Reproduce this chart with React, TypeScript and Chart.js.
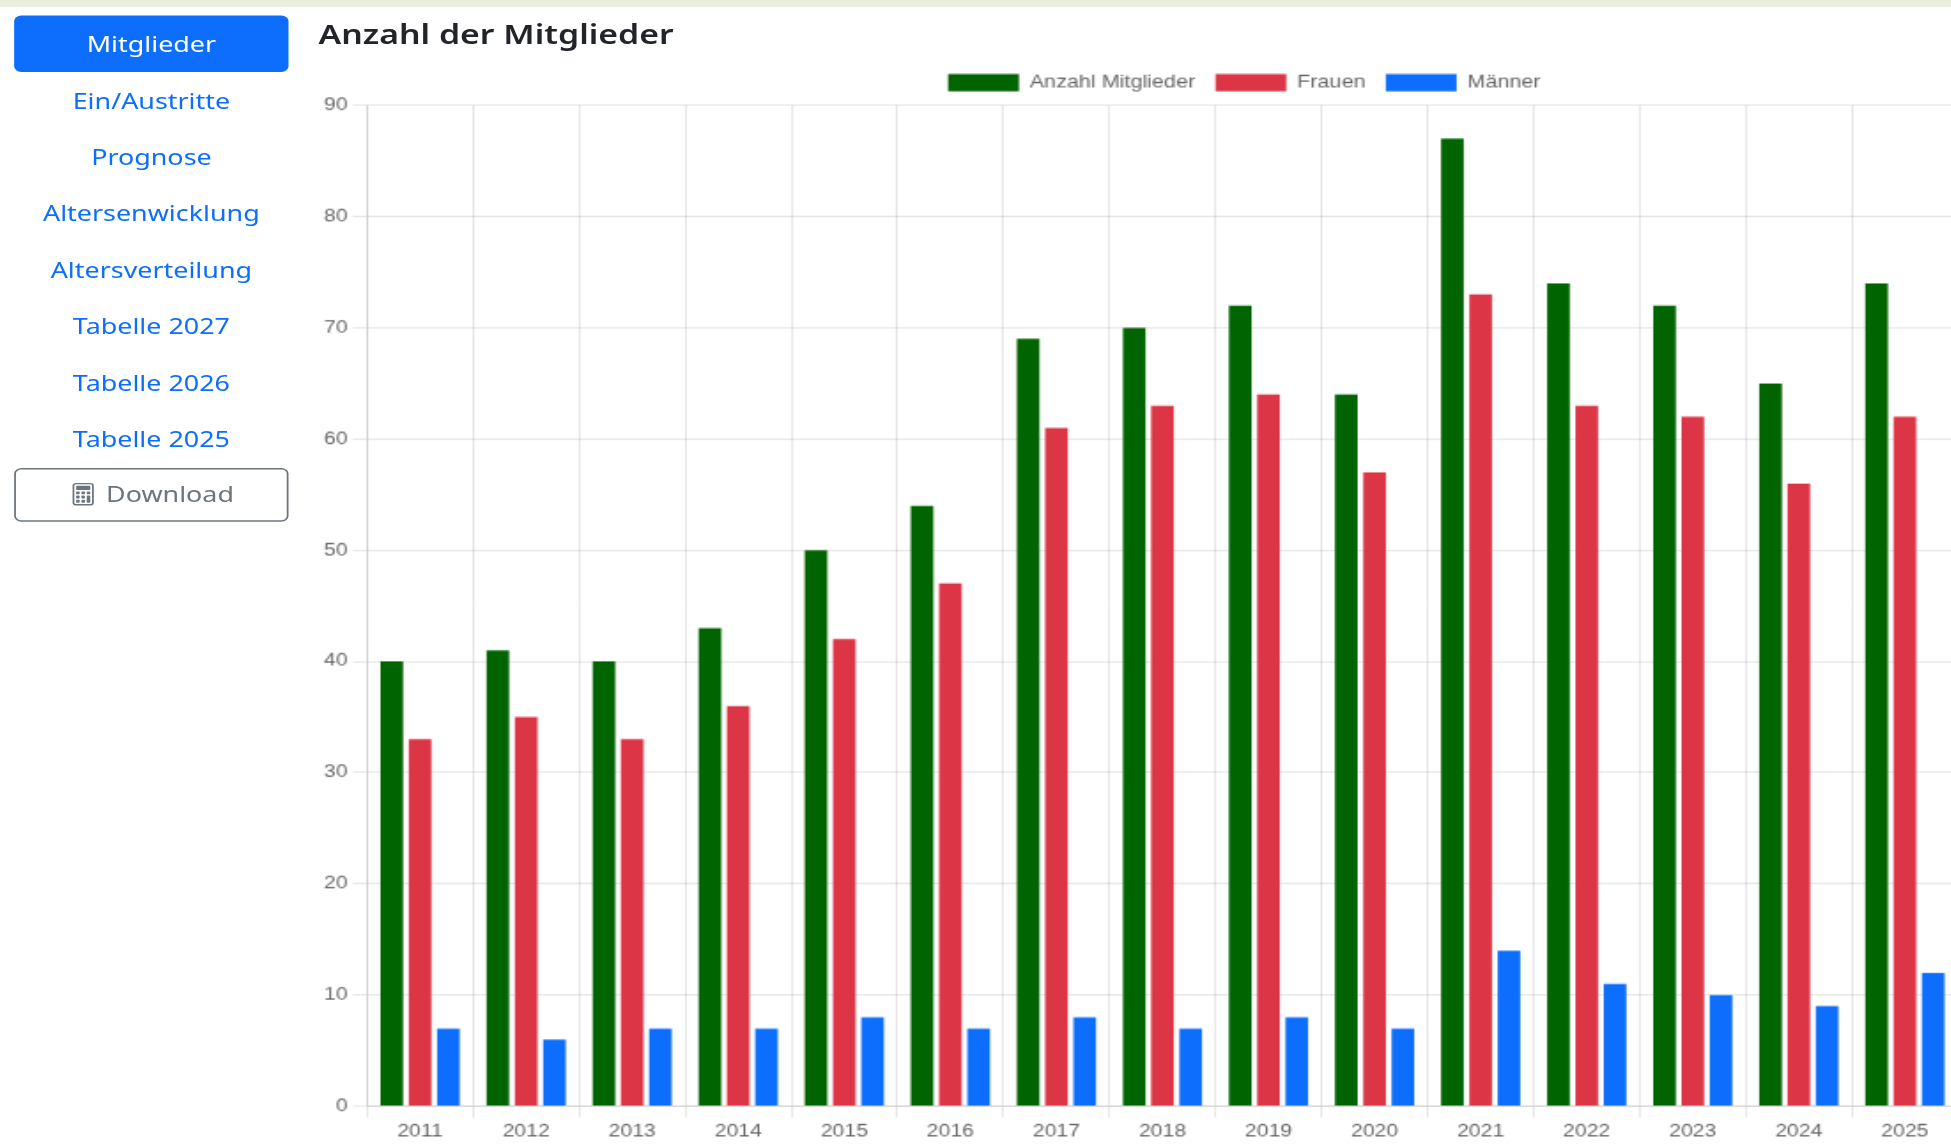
import React, { useEffect, useRef } from "react";
import { Chart, registerables } from "chart.js";

Chart.register(...registerables);

const years = ["2011","2012","2013","2014","2015","2016","2017","2018","2019","2020","2021","2022","2023","2024","2025","2026","2027"];
const members = [40,41,40,43,50,54,69,70,72,64,87,74,72,65,74,null,null];
const women = [33,35,33,36,42,47,61,63,64,57,73,63,62,56,62,null,null];
const men = [7,6,7,7,8,7,8,7,8,7,14,11,10,9,12,null,null];
const navItems = ["Ein/Austritte","Prognose","Altersenwicklung","Altersverteilung","Tabelle 2027","Tabelle 2026","Tabelle 2025"];

const SX = 1.77;
const SY = 1.41;
const uiFont = '"Noto Sans", "Open Sans", sans-serif';

export default function App() {
  const ref = useRef<HTMLCanvasElement>(null);
  useEffect(() => {
    const common = { barPercentage: 0.8, categoryPercentage: 0.8 };
    const chart = new Chart(ref.current!, {
      type: "bar",
      data: {
        labels: years,
        datasets: [
          { label: "Anzahl Mitglieder", data: members, backgroundColor: "#006400", ...common },
          { label: "Frauen", data: women, backgroundColor: "#dc3545", ...common },
          { label: "Männer", data: men, backgroundColor: "#0d6efd", ...common },
        ],
      },
      options: {
        animation: false,
        responsive: false,
        devicePixelRatio: 1,
        font: { family: '"Liberation Sans", Arial, sans-serif', size: 12 },
        plugins: {
          legend: { position: "top", labels: { padding: 11.5, font: { size: 12.2 } } },
          tooltip: { enabled: false },
        },
        scales: {
          x: { ticks: { maxRotation: 0, autoSkip: false } },
          y: { beginAtZero: true, min: 0, max: 90, ticks: { stepSize: 10 } },
        },
      } as any,
    });
    return () => chart.destroy();
  }, []);

  const navStyle: React.CSSProperties = {
    height: 40, lineHeight: "40px", textAlign: "center", color: "#0d6efd", fontSize: 15.2,
  };

  return (
    <div style={{ position: "absolute", left: 0, top: 0, width: 1951, height: 1147, overflow: "hidden", background: "#fff" }}>
      <div style={{ position: "absolute", left: 0, top: 0, width: 1951, height: 7, background: "#e9efdc" }} />
      <div style={{ position: "absolute", left: 0, top: 0, width: 1951 / SX, height: 1147 / SY, transform: `scale(${SX},${SY})`, transformOrigin: "0 0", fontFamily: uiFont, filter: "blur(0.4px)" }}>
        <div style={{ position: "absolute", left: 8.4, top: 10.7, width: 154.3 }}>
          <div style={{ ...navStyle, background: "#0d6efd", color: "#fff", borderRadius: 4 }}>Mitglieder</div>
          {navItems.map((t) => <div key={t} style={navStyle}>{t}</div>)}
          <div style={{ boxSizing: "border-box", height: 38, marginTop: 1, lineHeight: "35px", textAlign: "center", color: "#6c757d", border: "1px solid #6c757d", borderRadius: 4, fontSize: 15.2 }}>
            <svg width="16" height="17" viewBox="0 0 16 16" fill="currentColor" style={{ verticalAlign: -3, marginRight: 5 }}>
              <path d="M12 1a1 1 0 0 1 1 1v12a1 1 0 0 1-1 1H4a1 1 0 0 1-1-1V2a1 1 0 0 1 1-1h8zM4 0a2 2 0 0 0-2 2v12a2 2 0 0 0 2 2h8a2 2 0 0 0 2-2V2a2 2 0 0 0-2-2H4z"/>
              <path d="M4 2.5a.5.5 0 0 1 .5-.5h7a.5.5 0 0 1 .5.5v2a.5.5 0 0 1-.5.5h-7a.5.5 0 0 1-.5-.5v-2zm0 4a.5.5 0 0 1 .5-.5h1a.5.5 0 0 1 .5.5v1a.5.5 0 0 1-.5.5h-1a.5.5 0 0 1-.5-.5v-1zm0 3a.5.5 0 0 1 .5-.5h1a.5.5 0 0 1 .5.5v1a.5.5 0 0 1-.5.5h-1a.5.5 0 0 1-.5-.5v-1zm0 3a.5.5 0 0 1 .5-.5h1a.5.5 0 0 1 .5.5v1a.5.5 0 0 1-.5.5h-1a.5.5 0 0 1-.5-.5v-1zm3-6a.5.5 0 0 1 .5-.5h1a.5.5 0 0 1 .5.5v1a.5.5 0 0 1-.5.5h-1a.5.5 0 0 1-.5-.5v-1zm0 3a.5.5 0 0 1 .5-.5h1a.5.5 0 0 1 .5.5v1a.5.5 0 0 1-.5.5h-1a.5.5 0 0 1-.5-.5v-1zm0 3a.5.5 0 0 1 .5-.5h1a.5.5 0 0 1 .5.5v1a.5.5 0 0 1-.5.5h-1a.5.5 0 0 1-.5-.5v-1zm3-6a.5.5 0 0 1 .5-.5h1a.5.5 0 0 1 .5.5v1a.5.5 0 0 1-.5.5h-1a.5.5 0 0 1-.5-.5v-1zm0 3a.5.5 0 0 1 .5-.5h1a.5.5 0 0 1 .5.5v4a.5.5 0 0 1-.5.5h-1a.5.5 0 0 1-.5-.5v-4z"/>
            </svg>
            Download
          </div>
        </div>
        <div style={{ position: "absolute", left: 180, top: 9.5, fontSize: 19.1, fontWeight: 600, lineHeight: "28px", color: "#212529", whiteSpace: "nowrap" }}>
          Anzahl der Mitglieder
        </div>
        <div style={{ position: "absolute", left: 179.6, top: 41.4 }}>
          <canvas ref={ref} width={1046} height={772} style={{ display: "block" }} />
        </div>
      </div>
    </div>
  );
}
